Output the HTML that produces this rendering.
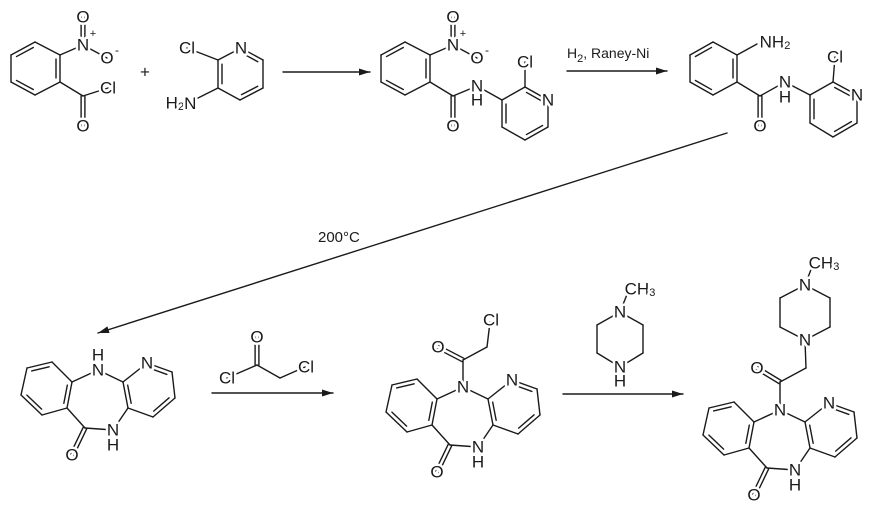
<!DOCTYPE html>
<html><head><meta charset="utf-8"><style>
html,body{margin:0;padding:0;background:#fff;}
svg{display:block;}
text{font-family:"Liberation Sans",sans-serif;fill:#1a1a1a;}
.a{font-size:17px;text-anchor:middle;dominant-baseline:central;stroke:#fff;stroke-width:5px;paint-order:stroke;stroke-linejoin:round;}
.s{font-size:11px;}
</style></head><body>
<svg id="s" width="875" height="512" viewBox="0 0 875 512" xmlns="http://www.w3.org/2000/svg">
<g id="b" stroke="#1a1a1a" stroke-width="1.4" fill="none" stroke-linecap="round"></g>
<g id="t"></g>
<text x="567" y="58" style="font-size:14px">H<tspan class="s" dy="4">2</tspan><tspan dy="-4">, Raney-Ni</tspan></text>
<text x="318" y="242" style="font-size:15px">200°C</text>
</svg>
<script>
var B=document.getElementById('b'),T=document.getElementById('t'),NS='http://www.w3.org/2000/svg';
function L(x1,y1,x2,y2){var l=document.createElementNS(NS,'line');l.setAttribute('x1',x1);l.setAttribute('y1',y1);l.setAttribute('x2',x2);l.setAttribute('y2',y2);B.appendChild(l);}
function bd(a,b,t,c){var dx=b[0]-a[0],dy=b[1]-a[1],d=Math.hypot(dx,dy),nx=-dy/d,ny=dx/d;
 if(t=='D'){var o=1.9;L(a[0]+nx*o,a[1]+ny*o,b[0]+nx*o,b[1]+ny*o);L(a[0]-nx*o,a[1]-ny*o,b[0]-nx*o,b[1]-ny*o);return;}
 L(a[0],a[1],b[0],b[1]);
 if(t=='i'){var mx=(a[0]+b[0])/2,my=(a[1]+b[1])/2;if((c[0]-mx)*nx+(c[1]-my)*ny<0){nx=-nx;ny=-ny;}var o=4,sh=0.15;
  L(a[0]+nx*o+dx*sh,a[1]+ny*o+dy*sh,b[0]+nx*o-dx*sh,b[1]+ny*o-dy*sh);}}
function ring(p,dbl){var cx=0,cy=0;p.forEach(function(q){cx+=q[0]/p.length;cy+=q[1]/p.length});
 for(var i=0;i<p.length;i++){bd(p[i],p[(i+1)%p.length],dbl.indexOf(i)>=0?'i':'',[cx,cy]);}}
function tx(s,x,y){var t=document.createElementNS(NS,'text');t.setAttribute('class','a');t.setAttribute('x',x);t.setAttribute('y',y);t.innerHTML=s;T.appendChild(t);}
function arrow(x1,y1,x2,y2){L(x1,y1,x2,y2);var dx=x2-x1,dy=y2-y1,d=Math.hypot(dx,dy),ux=dx/d,uy=dy/d;
 var p=document.createElementNS(NS,'polygon');p.setAttribute('points',x2+','+y2+' '+(x2-ux*11-uy*3.5)+','+(y2-uy*11+ux*3.5)+' '+(x2-ux*11+uy*3.5)+','+(y2-uy*11-ux*3.5));p.setAttribute('fill','#1a1a1a');p.setAttribute('stroke','none');B.appendChild(p);}
function S(a,dx,dy){return [a[0]+dx,a[1]+dy];}
function nitro(ox){var r=[[35,42],[60,55],[60,82],[35,95],[11,82],[11,55]].map(function(q){return S(q,ox,0)});
 ring(r,[5,1,3]);var N=[83+ox,45],O1=[83+ox,17],O2=[107+ox,58],C=[83+ox,96],O=[83+ox,126];
 bd(r[1],N);bd(N,O1,'D');bd(N,O2);bd(r[2],C);bd(C,O,'D');
 tx('N',N[0],N[1]);tx('O',O1[0],O1[1]);tx('O',O2[0],O2[1]);tx('O',O[0],O[1]);
 tx('<tspan style="font-size:11px">+</tspan>',N[0]+10,N[1]-11);tx('<tspan style="font-size:12px">-</tspan>',O2[0]+10,O2[1]-8);return C;}
var C1=nitro(0);var Cl1=[108,88];bd(C1,Cl1);tx('Cl',Cl1[0],Cl1[1]);
tx('+',145,72);
var p2=[[241,48],[218,60],[218,88],[240,100],[263,88],[263,60]];ring(p2,[1,3,5]);
bd(p2[1],[187,48]);tx('Cl',187,48);bd(p2[2],[194,100]);
tx('H<tspan dy="4" style="font-size:11px">2</tspan><tspan dy="-4">N</tspan>',181,103);tx('N',241,48);
arrow(283,72,370,72);
var C3=nitro(370);var N3=[477,86];bd(C3,N3);
var p3=[[502,100],[525,87],[548,100],[548,127],[525,140],[502,127]];ring(p3,[1,3,5]);bd(N3,p3[0]);
bd(p3[1],[525,62]);tx('Cl',525,62);tx('N',548,100);tx('N',N3[0],N3[1]);tx('H',477,100);
arrow(567,71,667,71);
var r4=[[713,42],[737,55],[737,82],[713,95],[690,82],[690,55]];ring(r4,[5,1,3]);
bd(r4[1],[757,44]);tx('NH<tspan dy="4" style="font-size:11px">2</tspan>',775,42);
var C4=[760,96],O4=[760,126],N4=[785,82];bd(r4[2],C4);bd(C4,O4,'D');bd(C4,N4);
var p4=[[810,95],[833,82],[857,95],[857,123],[833,137],[810,123]];ring(p4,[1,3,5]);bd(N4,p4[0]);
bd(p4[1],[835,57]);tx('Cl',835,57);tx('N',857,95);tx('N',N4[0],N4[1]);tx('H',785,97);tx('O',O4[0],O4[1]);
arrow(727,133,98,333);
function tri(ox,oy,hN){var f=function(q){return S(q,ox,oy)};
 var bz=[[27,368],[52,362],[72,382],[67,408],[42,415],[21,395]].map(f);ring(bz,[0,2,4]);
 var py=[[123,382],[147,363],[172,372],[175,398],[153,417],[128,408]].map(f);ring(py,[1,3,5]);
 var N1=f([98,370]),N2=f([113,430]),C=f([85,428]),O=f([72,455]);
 bd(bz[2],N1);bd(N1,py[0]);bd(py[5],N2);bd(N2,C);bd(C,bz[3]);bd(C,O,'D');
 tx('N',N1[0],N1[1]);tx('N',py[1][0],py[1][1]);tx('N',N2[0],N2[1]);tx('H',N2[0],N2[1]+15);tx('O',O[0],O[1]);
 if(hN)tx('H',N1[0],N1[1]-15);return N1;}
tri(0,0,true);
bd([227,378],[257,365]);bd([257,365],[257,337],'D');bd([257,365],[280,378]);bd([280,378],[305,367]);
tx('Cl',227,378);tx('O',257,337);tx('Cl',306,367);
arrow(212,393,333,393);
var n6=tri(365,17,false);var a6=[463,360];bd(n6,a6);bd(a6,[438,347],'D');bd(a6,[487,347]);bd([487,347],[490,322]);
tx('O',438,347);tx('Cl',491,320);
var pz=[[620,312],[643,325],[643,353],[620,367],[597,353],[597,325]];ring(pz,[]);bd(pz[0],[628,292]);
tx('N',620,312);tx('N',620,367);tx('H',620,381);tx('CH<tspan dy="4" style="font-size:11px">3</tspan>',640,289);
arrow(563,394,683,394);
var n7=tri(682,40,false);var a7=[780,382];bd(n7,a7);bd(a7,[757,368],'D');bd(a7,[806,368]);bd([806,368],[805,340]);
var pz2=[[805,340],[830,327],[830,298],[805,285],[780,298],[780,327]];ring(pz2,[]);bd(pz2[3],[812,267]);
tx('O',757,368);tx('N',805,340);tx('N',805,285);tx('CH<tspan dy="4" style="font-size:11px">3</tspan>',824,263);
</script>
</body></html>
